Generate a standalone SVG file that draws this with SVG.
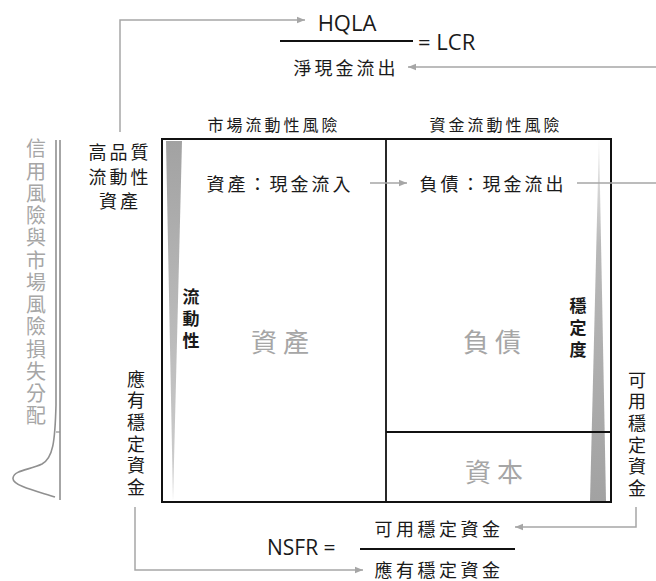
<svg xmlns="http://www.w3.org/2000/svg" width="656" height="581" viewBox="0 0 656 581">
<style>
.cjk{font-family:"Noto Sans CJK TC","Noto Sans CJK SC",sans-serif;fill:#1a1a1a}
.lat{font-family:"Open Sans","Noto Sans","Liberation Sans",sans-serif;fill:#1a1a1a}
.gray{fill:#a6a6a6}
.vert{writing-mode:vertical-rl;text-anchor:middle}
.conn{fill:none;stroke:#a6a6a6;stroke-width:1.5}
.box{fill:none;stroke:#111;stroke-width:2}
.line{stroke:#111;stroke-width:1.8}
</style>
<defs>
<marker id="ah" markerUnits="userSpaceOnUse" markerWidth="9" markerHeight="8" refX="8" refY="4" orient="auto">
<path d="M0,0.8 L8,4 L0,7.2 Z" fill="#a6a6a6"/>
</marker>
<linearGradient id="gl" x1="0" y1="0" x2="0" y2="1">
<stop offset="0" stop-color="#a2a2a2"/>
<stop offset="1" stop-color="#d0d0d0"/>
</linearGradient>
<linearGradient id="gr" x1="0" y1="0" x2="0" y2="1">
<stop offset="0" stop-color="#f0f0f0"/>
<stop offset="0.3" stop-color="#b8b8b8"/>
<stop offset="1" stop-color="#a2a2a2"/>
</linearGradient>
</defs>

<g id="main-box">
<polygon points="166,141 182,141 173,501" fill="url(#gl)"/>
<polygon points="599,137 590,501 606,501" fill="url(#gr)"/>
<rect class="box" x="162" y="139" width="449" height="363"/>
<line class="line" x1="386" y1="139" x2="386" y2="502"/>
<line class="line" x1="386" y1="432" x2="611" y2="432"/>
</g>

<g id="loss-distribution">
<path d="M56,140 L56,405 C55,442 53,458 42,464 C30,470 14,470 13,478 C12,486 40,492 55,497" fill="none" stroke="#909090" stroke-width="1.6"/>
<line x1="60" y1="140" x2="60" y2="500" stroke="#909090" stroke-width="1.6"/>
<line x1="56" y1="432" x2="60" y2="432" stroke="#909090" stroke-width="1.2"/>
<text class="cjk gray vert" x="36" y="283.5" font-size="20" letter-spacing="2.25">信用風險與市場風險損失分配</text>
</g>

<g id="lcr-formula">
<text class="lat" x="347" y="22" font-size="22" text-anchor="middle" dominant-baseline="central">HQLA</text>
<line x1="280" y1="41" x2="413" y2="41" stroke="#111" stroke-width="1.8"/>
<text class="lat" x="418" y="41" font-size="22" dominant-baseline="central">= LCR</text>
<text class="cjk" x="346" y="67" font-size="18" letter-spacing="3" text-anchor="middle" dominant-baseline="central">淨現金流出</text>
</g>

<g id="headers">
<text class="cjk" x="274" y="124" font-size="16" letter-spacing="3" text-anchor="middle" dominant-baseline="central">市場流動性風險</text>
<text class="cjk" x="496" y="124" font-size="16" letter-spacing="3" text-anchor="middle" dominant-baseline="central">資金流動性風險</text>
</g>

<g id="hqla-label">
<text class="cjk" x="120" y="151" font-size="18" letter-spacing="3" text-anchor="middle" dominant-baseline="central">高品質</text>
<text class="cjk" x="120" y="175.5" font-size="18" letter-spacing="3" text-anchor="middle" dominant-baseline="central">流動性</text>
<text class="cjk" x="120" y="200" font-size="18" letter-spacing="3" text-anchor="middle" dominant-baseline="central">資產</text>
</g>

<g id="asset-inflow">
<text class="cjk" x="280" y="183" font-size="18" letter-spacing="3" text-anchor="middle" dominant-baseline="central">資產：現金流入</text>
</g>
<g id="liability-outflow">
<text class="cjk" x="493" y="183" font-size="18" letter-spacing="3" text-anchor="middle" dominant-baseline="central">負債：現金流出</text>
</g>

<g id="liquidity-label">
<text class="cjk vert" x="191" y="321.5" font-size="17" font-weight="bold" fill="#000" letter-spacing="5">流動性</text>
</g>
<g id="stability-label">
<text class="cjk vert" x="578" y="330.5" font-size="17" font-weight="bold" fill="#000" letter-spacing="5">穩定度</text>
</g>

<g id="assets">
<text class="cjk gray" x="283" y="340" font-size="26" letter-spacing="6" text-anchor="middle" dominant-baseline="central">資產</text>
</g>
<g id="liabilities">
<text class="cjk gray" x="495" y="340" font-size="26" letter-spacing="6" text-anchor="middle" dominant-baseline="central">負債</text>
</g>
<g id="capital">
<text class="cjk gray" x="497" y="470" font-size="26" letter-spacing="6" text-anchor="middle" dominant-baseline="central">資本</text>
</g>

<g id="required-stable-funding">
<text class="cjk vert" x="136" y="434.8" font-size="18" letter-spacing="3.6">應有穩定資金</text>
</g>
<g id="available-stable-funding">
<text class="cjk vert" x="637" y="435.8" font-size="18" letter-spacing="3.6">可用穩定資金</text>
</g>

<g id="nsfr-formula">
<text class="lat" x="267" y="547" font-size="21" dominant-baseline="central">NSFR =</text>
<line x1="360" y1="549" x2="515" y2="549" stroke="#111" stroke-width="1.8"/>
<text class="cjk" x="439" y="528" font-size="18" letter-spacing="3.5" text-anchor="middle" dominant-baseline="central">可用穩定資金</text>
<text class="cjk" x="439" y="569" font-size="18" letter-spacing="3.5" text-anchor="middle" dominant-baseline="central">應有穩定資金</text>
</g>

<g id="connectors">
<polyline class="conn" points="120,132 120,20 305,20" marker-end="url(#ah)"/>
<polyline class="conn" points="656,67 408,67" marker-end="url(#ah)"/>
<polyline class="conn" points="370,183 407,183" marker-end="url(#ah)"/>
<polyline class="conn" points="577,183 656,183"/>
<polyline class="conn" points="636,507 636,527 515,527" marker-end="url(#ah)"/>
<polyline class="conn" points="135,507 135,570 363,570" marker-end="url(#ah)"/>
</g>
</svg>
